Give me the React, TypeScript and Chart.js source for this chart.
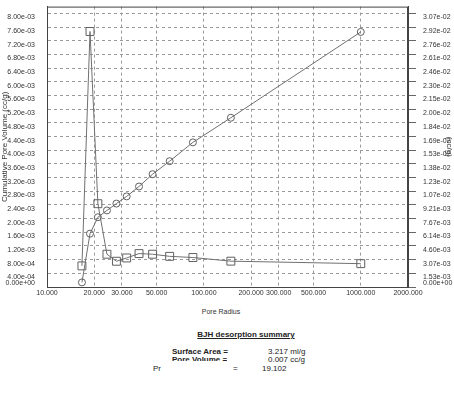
import React, { useEffect, useRef } from "react";
import { Chart, registerables } from "chart.js";

Chart.register(...registerables);

// ---- data ----
const poreRadius = [16.7, 18.8, 21.1, 24.1, 27.7, 32.2, 38.6, 47.1, 60.5, 85.1, 148.6, 1000];
const cumulativePoreVolume = [1.35e-4, 1.56e-3, 2.04e-3, 2.24e-3, 2.44e-3, 2.65e-3, 2.94e-3, 3.3e-3, 3.68e-3, 4.23e-3, 4.95e-3, 7.46e-3];
const dvPoreVolume = [2.37e-3, 2.868e-2, 9.35e-3, 3.68e-3, 2.89e-3, 3.26e-3, 3.75e-3, 3.68e-3, 3.44e-3, 3.31e-3, 2.9e-3, 2.62e-3];

const xTickValues = [10, 20, 30, 50, 100, 200, 300, 500, 1000, 2000];
const leftTickLabels = [
  "0.00e+00", "4.00e-04", "8.00e-04", "1.20e-03", "1.60e-03", "2.00e-03", "2.40e-03",
  "2.80e-03", "3.20e-03", "3.60e-03", "4.00e-03", "4.40e-03", "4.80e-03", "5.20e-03",
  "5.60e-03", "6.00e-03", "6.40e-03", "6.80e-03", "7.20e-03", "7.60e-03", "8.00e-03",
];
const rightTickLabels = [
  "0.00e+00", "1.53e-03", "3.07e-03", "4.60e-03", "6.14e-03", "7.67e-03", "9.21e-03",
  "1.07e-02", "1.23e-02", "1.38e-02", "1.53e-02", "1.69e-02", "1.84e-02", "2.00e-02",
  "2.15e-02", "2.30e-02", "2.46e-02", "2.61e-02", "2.76e-02", "2.92e-02", "3.07e-02",
];
const leftMaxTick = 8e-3;
const rightMaxTick = 3.07e-2;

const FONT = '"Liberation Sans", Arial, sans-serif';

export default function App() {
  const canvasRef = useRef<HTMLCanvasElement | null>(null);

  useEffect(() => {
    document.body.style.margin = "0";
    const canvas = canvasRef.current;
    if (!canvas) return;
    const n = leftTickLabels.length - 1;
    const headroom = 285 / 278; // plot frame extends a little above the top tick
    const gridColor = "#9a9a9a";
    const textColor = "#333";

    const framePlugin = {
      id: "frame",
      beforeDatasetsDraw(chart: any) {
        const { ctx, chartArea } = chart;
        ctx.save();
        ctx.strokeStyle = "#444";
        ctx.lineWidth = 1;
        ctx.strokeRect(chartArea.left + 0.5, chartArea.top + 0.5, chartArea.right - chartArea.left - 1, chartArea.bottom - chartArea.top);
        ctx.restore();
      },
    };

    const zeroLabel = (lbl: string) => [lbl, "", ""];
    const noPad = (scale: any) => {
      scale.paddingTop = 0;
      scale.paddingBottom = 0;
      scale.paddingLeft = 0;
      scale.paddingRight = 0;
    };

    const chart = new Chart(canvas, {
      type: "line",
      data: {
        datasets: [
          {
            label: "Cumulative Pore Volume",
            data: poreRadius.map((x, i) => ({ x, y: cumulativePoreVolume[i] })),
            yAxisID: "yLeft",
            borderColor: "#707070",
            borderWidth: 1,
            pointStyle: "circle",
            pointRadius: 3.5,
            pointBackgroundColor: "rgba(255,255,255,0)",
            pointBorderColor: "#606060",
            pointBorderWidth: 1,
            tension: 0,
          },
          {
            label: "Pore Volume",
            data: poreRadius.map((x, i) => ({ x, y: dvPoreVolume[i] })),
            yAxisID: "yRight",
            borderColor: "#707070",
            borderWidth: 1,
            pointStyle: "rect",
            pointRadius: 5.6,
            pointBackgroundColor: "rgba(255,255,255,0)",
            pointBorderColor: "#606060",
            pointBorderWidth: 1,
            tension: 0,
          },
        ],
      },
      options: {
        animation: false,
        responsive: false,
        maintainAspectRatio: false,
        layout: { padding: { top: 2, left: 0, right: 0, bottom: 0 } },
        plugins: { legend: { display: false }, tooltip: { enabled: false }, title: { display: false } },
        scales: {
          x: {
            type: "logarithmic",
            position: "bottom",
            min: 10,
            max: 2000,
            afterBuildTicks: (scale: any) => {
              scale.ticks = xTickValues.map((v) => ({ value: v }));
            },
            afterFit: (scale: any) => {
              scale.height = 13;
              noPad(scale);
            },
            ticks: {
              autoSkip: false,
              maxRotation: 0,
              minRotation: 0,
              padding: 2,
              color: textColor,
              font: { family: FONT, size: 7 },
              callback: (v: any) => Number(v).toFixed(3),
            },
            grid: { color: gridColor, lineWidth: 1, drawTicks: false },
            border: { display: true, color: "#444", dash: [3, 3] },
          },
          yLeft: {
            type: "linear",
            position: "left",
            min: 0,
            max: leftMaxTick * headroom,
            afterBuildTicks: (scale: any) => {
              scale.ticks = leftTickLabels.map((_, i) => ({ value: (leftMaxTick * i) / n }));
            },
            afterFit: (scale: any) => {
              scale.width = 47;
              noPad(scale);
            },
            ticks: {
              autoSkip: false,
              padding: 12,
              labelOffset: 4,
              color: textColor,
              font: { family: FONT, size: 7 },
              callback: (_v: any, i: number) => (i === 0 ? zeroLabel(leftTickLabels[i]) : leftTickLabels[i]),
            },
            grid: { color: gridColor, lineWidth: 1, drawTicks: false },
            border: { display: true, color: "#444", dash: [3, 3] },
            title: {
              display: true,
              text: "Cumulative Pore Volume (cc/g)",
              color: textColor,
              font: { family: FONT, size: 8 },
              padding: { top: 0, bottom: 0 },
            },
          },
          yRight: {
            type: "linear",
            position: "right",
            min: 0,
            max: rightMaxTick * headroom,
            afterBuildTicks: (scale: any) => {
              scale.ticks = rightTickLabels.map((_, i) => ({ value: (rightMaxTick * i) / n }));
            },
            afterFit: (scale: any) => {
              scale.width = 46;
              noPad(scale);
            },
            ticks: {
              autoSkip: false,
              padding: 7,
              labelOffset: 4,
              color: textColor,
              font: { family: FONT, size: 7 },
              callback: (_v: any, i: number) => (i === 0 ? zeroLabel(rightTickLabels[i]) : rightTickLabels[i]),
            },
            grid: {
              drawOnChartArea: false,
              drawTicks: true,
              tickLength: 8,
              tickColor: "#666",
              tickBorderDash: [],
            },
            border: { display: true, color: "#444" },
            title: {
              display: true,
              text: "(cc/g)",
              color: textColor,
              font: { family: FONT, size: 8 },
              padding: { top: 0, bottom: 0 },
            },
          },
        },
      } as any,
      plugins: [framePlugin],
    });
    return () => chart.destroy();
  }, []);

  const txt = (left: number, top: number, extra: React.CSSProperties = {}): React.CSSProperties => ({
    position: "absolute",
    left,
    top,
    font: `8px ${FONT}`,
    lineHeight: "8px",
    color: "#222",
    whiteSpace: "nowrap",
    ...extra,
  });

  return (
    <div style={{ position: "absolute", left: 0, top: 0, width: 454, height: 398, background: "#fff", overflow: "hidden" }}>
      <canvas ref={canvasRef} width={454} height={300} style={{ position: "absolute", left: 0, top: 0, width: 454, height: 300 }} />
      <div style={txt(221, 308, { transform: "translateX(-50%)", fontSize: 7, color: "#333" })}>Pore Radius</div>
      <div style={txt(246, 331, { transform: "translateX(-50%)", fontWeight: "bold", textDecoration: "underline" })}>BJH desorption summary</div>
      <div style={txt(172, 348, { fontWeight: "bold" })}>Surface Area =</div>
      <div style={txt(268, 348)}>3.217 ml/g</div>
      <div style={{ position: "absolute", left: 172, top: 356, height: 5, overflow: "hidden" }}>
        <div style={txt(0, 0, { position: "relative", fontWeight: "bold" })}>Pore Volume =</div>
      </div>
      <div style={txt(268, 356)}>0.007 cc/g</div>
      <div style={txt(153, 365)}>Pr</div>
      <div style={txt(233, 365)}>=</div>
      <div style={txt(262, 365)}>19.102</div>
    </div>
  );
}
